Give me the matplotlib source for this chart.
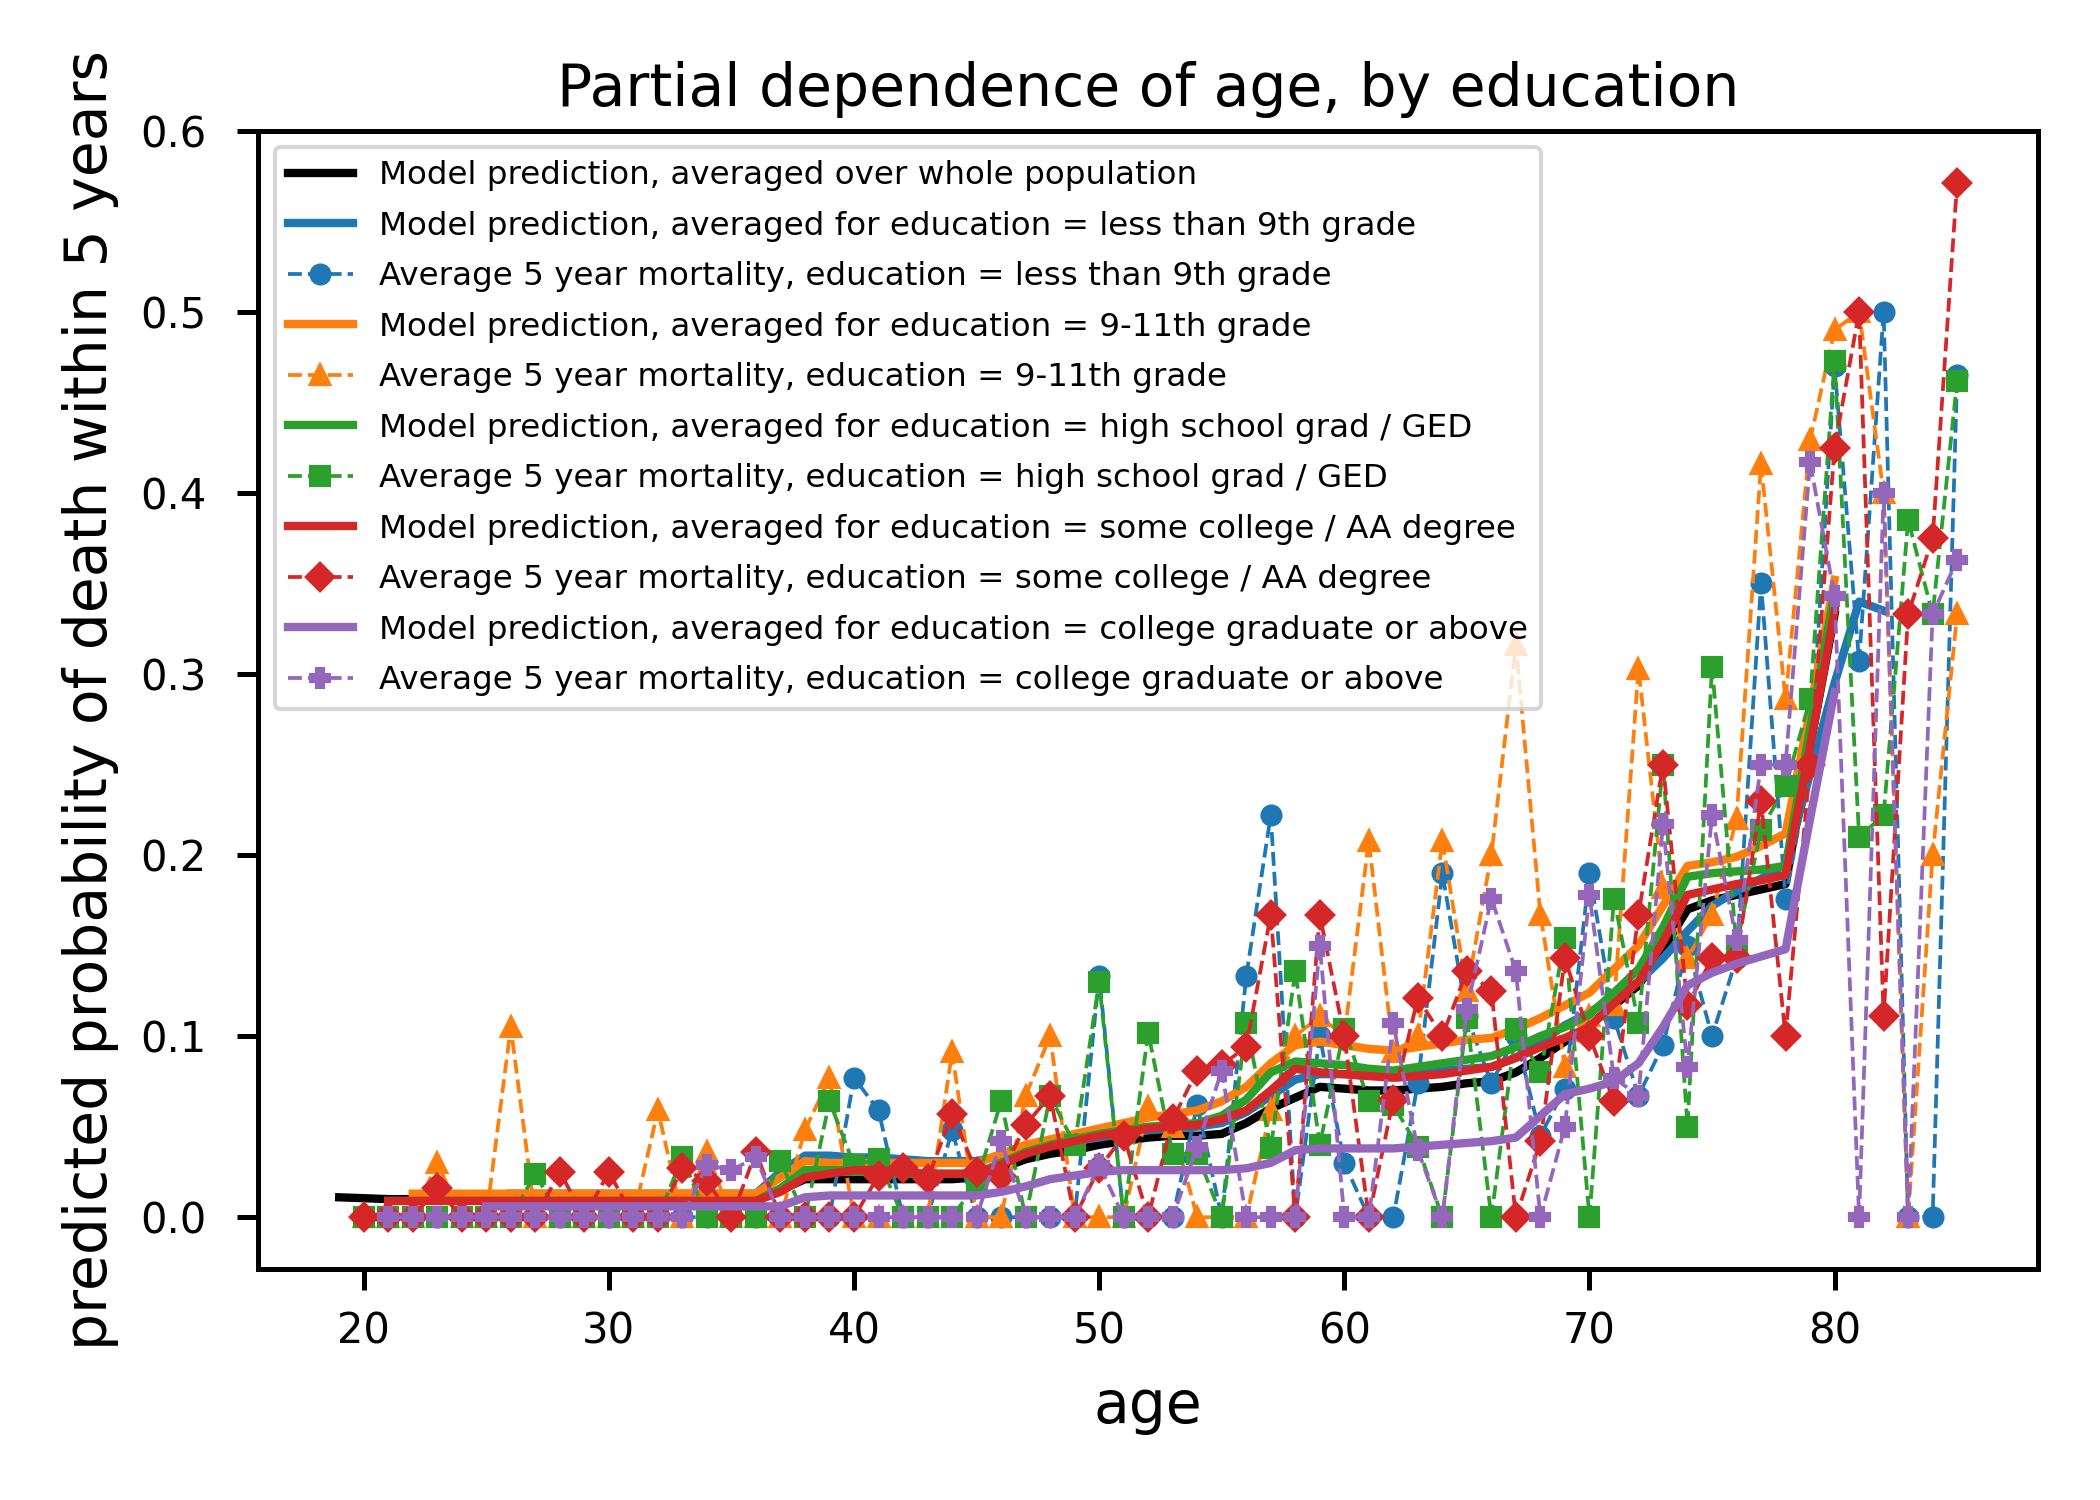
import matplotlib
matplotlib.use("Agg")
import matplotlib.pyplot as plt

# ages with observed mortality averages
ages_obs = list(range(20, 86))
ages_obs_college = list(range(21, 86))

# average 5 year mortality per education group
mort_lt9 = [
    0, 0, 0, 0, 0, 0, 0, 0, 0, 0,
    0, 0, 0, 0, 0, 0, 0, 0, 0, 0,
    0.077, 0.059, 0, 0, 0.048, 0, 0, 0, 0, 0,
    0.133, 0, 0, 0, 0.062, 0, 0.133, 0.222, 0, 0.1,
    0.03, 0, 0, 0.074, 0.19, 0.111, 0.074, 0.1, 0.045, 0.071,
    0.19, 0.11, 0.067, 0.095, 0.15, 0.1, 0.143, 0.35, 0.176, 0.25,
    0.47, 0.307, 0.5, 0, 0, 0.465,
]
mort_9_11 = [
    0, 0, 0, 0.03, 0, 0, 0.105, 0, 0, 0,
    0, 0, 0.059, 0, 0.036, 0, 0, 0, 0.048, 0.077,
    0, 0, 0, 0, 0.091, 0, 0, 0.067, 0.1, 0,
    0, 0, 0.061, 0.05, 0, 0, 0, 0.059, 0.1, 0.111,
    0.1, 0.208, 0.091, 0.1, 0.208, 0.125, 0.2, 0.316, 0.167, 0.083,
    0.111, 0.117, 0.303, 0.182, 0.143, 0.167, 0.22, 0.416, 0.286, 0.429,
    0.49, 0.5, 0.4, 0, 0.2, 0.333,
]
mort_hs = [
    0, 0, 0, 0, 0, 0, 0, 0.024, 0, 0,
    0, 0, 0, 0.033, 0, 0, 0, 0.031, 0, 0.064,
    0.029, 0.032, 0, 0, 0, 0.019, 0.064, 0, 0.067, 0.04,
    0.13, 0, 0.102, 0.035, 0.035, 0, 0.107, 0.038, 0.136, 0.04,
    0.104, 0.064, 0.062, 0.039, 0, 0.11, 0, 0.104, 0.08, 0.154,
    0, 0.176, 0.107, 0.25, 0.05, 0.304, 0.15, 0.214, 0.238, 0.286,
    0.473, 0.21, 0.222, 0.385, 0.333, 0.462,
]
mort_some_college = [
    0, 0, 0, 0.016, 0, 0, 0, 0, 0.025, 0,
    0.025, 0, 0, 0.027, 0.02, 0, 0.036, 0, 0, 0,
    0, 0.023, 0.027, 0.021, 0.057, 0.025, 0.023, 0.051, 0.067, 0,
    0.027, 0.045, 0, 0.054, 0.081, 0.084, 0.094, 0.167, 0, 0.167,
    0.1, 0, 0.065, 0.121, 0.1, 0.136, 0.125, 0, 0.042, 0.143,
    0.1, 0.064, 0.167, 0.25, 0.117, 0.143, 0.143, 0.23, 0.1, 0.25,
    0.425, 0.5, 0.111, 0.333, 0.375, 0.5714,
]
mort_college = [
    0, 0, 0, 0, 0, 0, 0, 0, 0,
    0, 0, 0, 0, 0.029, 0.026, 0.033, 0, 0, 0,
    0, 0, 0, 0, 0, 0, 0.042, 0, 0, 0,
    0.029, 0, 0, 0, 0.039, 0.081, 0, 0, 0, 0.15,
    0, 0, 0.107, 0.037, 0, 0.115, 0.176, 0.136, 0, 0.05,
    0.178, 0.077, 0.067, 0.217, 0.083, 0.222, 0.153, 0.25, 0.25, 0.417,
    0.343, 0, 0.4, 0, 0.333, 0.363,
]

# model predictions (partial dependence curves)
ages_all = list(range(19, 81))
pd_all = [
    0.011, 0.0105, 0.010, 0.010, 0.010, 0.010, 0.010, 0.010, 0.010, 0.010,
    0.010, 0.010, 0.010, 0.010, 0.010, 0.010, 0.010, 0.010, 0.015, 0.021,
    0.021, 0.021, 0.021, 0.021, 0.021, 0.021, 0.022, 0.027, 0.032, 0.035,
    0.037, 0.040, 0.042, 0.044, 0.045, 0.045, 0.046, 0.052, 0.060, 0.066,
    0.072, 0.071, 0.070, 0.070, 0.071, 0.072, 0.074, 0.075, 0.080, 0.088,
    0.097, 0.106, 0.117, 0.128, 0.148, 0.170, 0.175, 0.178, 0.181, 0.184,
    0.26, 0.333,
]
ages_lt9 = list(range(26, 83))
pd_lt9 = [
    0.013, 0.013, 0.013, 0.013, 0.013, 0.013, 0.013, 0.013, 0.013, 0.013,
    0.013, 0.025, 0.034, 0.034, 0.033, 0.033, 0.032, 0.031, 0.031, 0.031,
    0.034, 0.038, 0.040, 0.042, 0.044, 0.046, 0.048, 0.049, 0.050, 0.052,
    0.058, 0.067, 0.076, 0.079, 0.079, 0.078, 0.078, 0.080, 0.081, 0.082,
    0.083, 0.088, 0.097, 0.106, 0.113, 0.122, 0.130, 0.143, 0.158, 0.172,
    0.180, 0.187, 0.195, 0.245, 0.295, 0.340, 0.335,
]
ages_9_11 = list(range(22, 81))
pd_9_11 = [
    0.013, 0.013, 0.013, 0.013, 0.013, 0.013, 0.013, 0.013, 0.013, 0.013,
    0.013, 0.013, 0.013, 0.013, 0.013, 0.022, 0.031, 0.030, 0.030, 0.030,
    0.030, 0.030, 0.030, 0.030, 0.035, 0.040, 0.043, 0.046, 0.049, 0.052,
    0.055, 0.057, 0.059, 0.064, 0.072, 0.085, 0.095, 0.097, 0.095, 0.093,
    0.092, 0.094, 0.096, 0.098, 0.099, 0.104, 0.110, 0.117, 0.124, 0.137,
    0.150, 0.172, 0.194, 0.196, 0.199, 0.205, 0.212, 0.280, 0.352,
]
ages_hs = list(range(21, 81))
pd_hs = [
    0.009, 0.009, 0.009, 0.009, 0.009, 0.009, 0.009, 0.009, 0.009, 0.009,
    0.009, 0.009, 0.009, 0.009, 0.009, 0.009, 0.016, 0.026, 0.026, 0.026,
    0.024, 0.024, 0.024, 0.024, 0.024, 0.030, 0.036, 0.040, 0.043, 0.046,
    0.048, 0.050, 0.051, 0.052, 0.056, 0.065, 0.080, 0.086, 0.085, 0.084,
    0.082, 0.081, 0.083, 0.085, 0.087, 0.089, 0.094, 0.100, 0.105, 0.112,
    0.124, 0.137, 0.160, 0.188, 0.190, 0.191, 0.192, 0.194, 0.270, 0.345,
]
ages_some_college = list(range(21, 81))
pd_some_college = [
    0.009, 0.009, 0.009, 0.009, 0.009, 0.009, 0.009, 0.009, 0.009, 0.009,
    0.009, 0.009, 0.009, 0.009, 0.009, 0.009, 0.014, 0.022, 0.024, 0.026,
    0.026, 0.025, 0.024, 0.024, 0.024, 0.029, 0.035, 0.039, 0.042, 0.045,
    0.047, 0.049, 0.050, 0.051, 0.054, 0.059, 0.070, 0.082, 0.080, 0.079,
    0.078, 0.077, 0.078, 0.079, 0.081, 0.083, 0.088, 0.094, 0.099, 0.105,
    0.118, 0.130, 0.152, 0.178, 0.181, 0.184, 0.186, 0.189, 0.260, 0.335,
]
ages_college = list(range(25, 81))
pd_college = [
    0.006, 0.006, 0.006, 0.006, 0.006, 0.006, 0.006, 0.006, 0.006, 0.006,
    0.006, 0.006, 0.006, 0.011, 0.012, 0.012, 0.012, 0.012, 0.012, 0.012,
    0.012, 0.014, 0.017, 0.021, 0.023, 0.025, 0.026, 0.026, 0.026, 0.026,
    0.026, 0.027, 0.030, 0.037, 0.038, 0.038, 0.038, 0.038, 0.039, 0.040,
    0.041, 0.042, 0.044, 0.056, 0.068, 0.071, 0.075, 0.085, 0.105, 0.128,
    0.135, 0.140, 0.144, 0.148, 0.220, 0.290,
]

groups = [
    ("less than 9th grade", ages_lt9, pd_lt9, ages_obs, mort_lt9, "o"),
    ("9-11th grade", ages_9_11, pd_9_11, ages_obs, mort_9_11, "^"),
    ("high school grad / GED", ages_hs, pd_hs, ages_obs, mort_hs, "s"),
    ("some college / AA degree", ages_some_college, pd_some_college, ages_obs, mort_some_college, "D"),
    ("college graduate or above", ages_college, pd_college, ages_obs_college, mort_college, "P"),
]
colors = ["C0", "C1", "C2", "C3", "C4"]

fig = plt.figure(figsize=(7, 5), dpi=300)
ax = fig.add_axes([0.123, 0.154, 0.8475, 0.7588])

ax.plot(ages_all, pd_all, color="k", lw=2, label="Model prediction, averaged over whole population")
for (name, xa, ya, xo, yo, mk), col in zip(groups, colors):
    ax.plot(xa, ya, color=col, lw=2, label=f"Model prediction, averaged for education = {name}")
    ax.plot(xo, yo, color=col, ls="--", lw=0.9, marker=mk, ms=4.3,
            label=f"Average 5 year mortality, education = {name}")

ax.set_ylim(-0.0286, 0.6)
ax.set_title("Partial dependence of age, by education", fontsize=14)
ax.set_xlabel("age", fontsize=14, labelpad=6)
ax.set_ylabel("predicted probability of death within 5 years", fontsize=14, labelpad=5)
ax.tick_params(labelsize=10, width=1.2, length=5, pad=5)
ax.tick_params(axis="y", pad=7.5)
for s in ax.spines.values():
    s.set_linewidth(1.2)
ax.legend(loc="upper left", fontsize=7.8, labelspacing=0.6)

fig.savefig("out.png", dpi=300)
